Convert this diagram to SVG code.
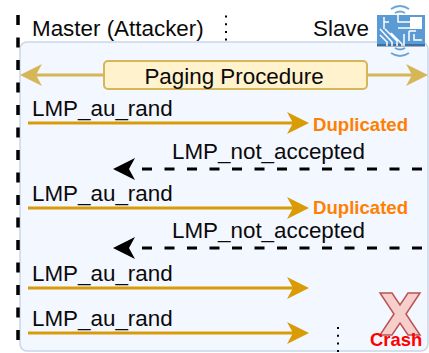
<svg xmlns="http://www.w3.org/2000/svg" width="429" height="353" viewBox="0 0 429 353">
<style>
text{font-family:"Liberation Sans",Arial,sans-serif;fill:#0a0a0a}
.t{font-size:22.4px}
.d{font-size:18.6px;font-weight:bold;fill:#ff8000}
.or{stroke:#d99b06;stroke-width:3;fill:none}
.gd{stroke:#d6b656;stroke-width:3;fill:none}
.bk{stroke:#000;stroke-width:3;fill:none;stroke-dasharray:10 12.5}
.dot{stroke:#000;stroke-width:2;stroke-dasharray:2 5.7;fill:none}
.chip{stroke:#fff;stroke-width:1.5;fill:none}
.pad{fill:#fff}
.wifi{stroke:#6aa5d8;stroke-width:2;fill:none}
</style>
<rect x="20" y="42" width="408" height="309" rx="7" fill="#f3f7ff" stroke="#c9d6ea" stroke-width="1.5"/>
<g id="connectors">
<path d="M18 15V345" stroke="#000" stroke-width="3.500" stroke-dasharray="10 12.5" fill="none"/>
<path class="dot" d="M226 15.500V42"/>
<path class="dot" d="M338 327V353"/>
<path class="gd" d="M35 75H104"/>
<path d="M20 75L42 64L36 75L42 86Z" fill="#d6b656"/>
<path class="gd" d="M367 75H414"/>
<path d="M428 75L406 64L412 75L406 86Z" fill="#d6b656"/>
<path class="or" d="M28 123H296"/>
<path d="M309 123L287 112L293 123L287 134Z" fill="#d99b06"/>
<path class="or" d="M28 208H296"/>
<path d="M309 208L287 197L293 208L287 219Z" fill="#d99b06"/>
<path class="or" d="M28 288H296"/>
<path d="M309 288L287 277L293 288L287 299Z" fill="#d99b06"/>
<path class="or" d="M28 333H296"/>
<path d="M309 333L287 322L293 333L287 344Z" fill="#d99b06"/>
<path class="bk" d="M422 169H135"/>
<path d="M113 169L135 158L129 169L135 180Z" fill="#000"/>
<path class="bk" d="M422 248H135"/>
<path d="M113 248L135 237L129 248L135 259Z" fill="#000"/>
</g>
<g id="master"><text class="t" x="32" y="36">Master (Attacker)</text></g>
<g id="slave"><text class="t" x="313" y="36">Slave</text>
<g id="chip-icon">
<rect x="377" y="15" width="48" height="31" fill="#5b9bd5"/>
<rect x="377" y="44" width="48" height="2.500" fill="#3f6f9f"/>
<rect x="410" y="17" width="12" height="12" fill="#fff"/>
<path class="chip" d="M384 17V29M384 22H389M380 29L392 42V46M380 35L387 42V46M385 29L397 41V46M391 33L402 44V46M398 15V22H410M398 28H410M404 34V46M409 31V41M409 31H416M414 34V40H422"/>
<path class="wifi" d="M391 9Q400 3 409 9M395 13Q400 10 405 13M395 48Q400 51 405 48M391 53Q400 59 409 53"/>
</g></g>
<g id="paging"><rect x="104" y="61" width="263" height="28" rx="4" fill="#fff2cc" stroke="#d6b656" stroke-width="2"/>
<text class="t" x="234" y="84" text-anchor="middle">Paging Procedure</text></g>
<g id="labels">
<text class="t" x="32" y="116">LMP_au_rand</text>
<text class="t" x="32" y="201">LMP_au_rand</text>
<text class="t" x="32" y="281">LMP_au_rand</text>
<text class="t" x="32" y="326">LMP_au_rand</text>
<text class="t" x="172" y="159">LMP_not_accepted</text>
<text class="t" x="172" y="238">LMP_not_accepted</text>
<text class="d" x="313" y="131">Duplicated</text>
<text class="d" x="313" y="214">Duplicated</text>
</g>
<g id="crash">
<path d="M380 293H392L400 305L408 293H420L406 314L420 335H408L400 323L392 335H380L394 314Z" fill="#f8cecc" stroke="#b85450" stroke-width="1.500"/>
<text x="370" y="346" style="font-size:18.4px;font-weight:bold;fill:#ff0000">Crash</text>
</g>
</svg>
